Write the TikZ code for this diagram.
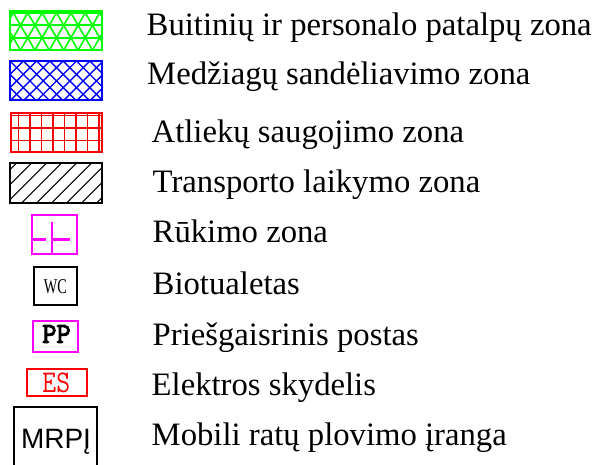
\documentclass[tikz,border=0pt]{standalone}
\usepackage{fontspec}
\setmainfont{Liberation Serif}
\newfontfamily\sansf{Liberation Sans}
\newcommand\strokedtext[1]{\special{pdf:literal direct 2 Tr 1.1 w}#1\special{pdf:literal direct 0 Tr}}
\begin{document}
\begin{tikzpicture}[x=1pt,y=-1pt,
  lbl/.style={anchor=base west, inner sep=0pt, font=\fontsize{32.7}{39}\selectfont},
  greenline/.style={draw={rgb,255:red,0;green,255;blue,0}, line width=1.6pt},
  blueline/.style={draw={rgb,255:red,0;green,0;blue,255}, line width=1.4pt},
  redline/.style={draw={rgb,255:red,255;green,0;blue,0}, line width=1.5pt},
  blackline/.style={draw=black, line width=1.1pt},
  magline/.style={draw={rgb,255:red,255;green,0;blue,255}, line width=2.3pt},
  symtext/.style={inner sep=0pt}]
\useasboundingbox (0,0) rectangle (601,464);

% --- green: triangles
\begin{scope}
  \clip (10,11) rectangle (102,50);
  \foreach \k in {12.8,25.27,37.74} {\draw[greenline] (10,\k) -- (102,\k);}
  \foreach \n in {-4,...,10} {
    \draw[greenline] (\n*14.4+13.3-25,12.8-43.3) -- (\n*14.4+13.3+25,12.8+43.3);
    \draw[greenline] (\n*14.4+13.3+25,12.8-43.3) -- (\n*14.4+13.3-25,12.8+43.3);
  }
\end{scope}
\node[draw={rgb,255:red,0;green,255;blue,0}, line width=2.6pt, minimum width=92pt, minimum height=39pt, inner sep=0pt] (gbox) at (56,30.5) {};

% --- blue: cross hatch
\begin{scope}
  \clip (10,61) rectangle (102,100);
  \foreach \n in {-4,...,10} {
    \draw[blueline] (10+\n*13.3,61) -- (50+\n*13.3,101);
    \draw[blueline] (10+\n*13.3,61) -- (-30+\n*13.3,101);
  }
\end{scope}
\node[draw={rgb,255:red,0;green,0;blue,255}, line width=2pt, minimum width=92pt, minimum height=39pt, inner sep=0pt] (bbox) at (56,80.5) {};

% --- red: grid
\begin{scope}
  \clip (10,113) rectangle (102,152);
  \foreach \k in {115.5,128,140.4} {\draw[redline] (10,\k) -- (102,\k);}
  \foreach \x in {18.3,29.8,41.3,52.8,64.3,75.8,87.3,98.8} {\draw[redline] (\x,113) -- (\x,152);}
\end{scope}
\node[draw={rgb,255:red,255;green,0;blue,0}, line width=2pt, minimum width=91pt, minimum height=39pt, inner sep=0pt] (rbox) at (56,132.5) {};

% --- black: hatch
\begin{scope}
  \clip (10,163) rectangle (102,203);
  \foreach \n in {0,...,8} {\draw[blackline] (16.7+\n*15,163) -- (-23.3+\n*15,203);}
\end{scope}
\node[draw=black, line width=1.8pt, minimum width=92pt, minimum height=40pt, inner sep=0pt] (kbox) at (56,183) {};

% --- smoking zone
\node[draw={rgb,255:red,255;green,0;blue,255}, line width=2.2pt, minimum width=45pt, minimum height=39pt, inner sep=0pt] (smk) at (54.5,234.5) {};
\draw[magline] (52,222) -- (52,254);
\draw[magline] (32,239.5) -- (45.5,239.5);
\draw[magline] (52,239.5) -- (70,239.5);

% --- WC
\node[draw=black, line width=1.5pt, minimum width=43pt, minimum height=38pt, inner sep=0pt] (wc) at (55.5,286) {};
\node[symtext] (wct) at (55.5,286.3) {\scalebox{0.68}[1]{\fontsize{21}{21}\selectfont WC}};

% --- PP
\node[draw={rgb,255:red,255;green,0;blue,255}, line width=1.8pt, minimum width=45pt, minimum height=31pt, inner sep=0pt] (pp) at (55.5,336.5) {};
\node[symtext] (ppt) at (56.5,334) {\scalebox{0.95}[1]{\ttfamily\fontsize{29}{29}\selectfont\strokedtext{PP}}};

% --- ES
\node[draw={rgb,255:red,255;green,0;blue,0}, line width=1.5pt, minimum width=60pt, minimum height=27pt, inner sep=0pt] (es) at (57,382.5) {};
\node[symtext, text={rgb,255:red,255;green,0;blue,0}] (est) at (56.3,383) {\scalebox{0.85}[1]{\ttfamily\fontsize{31.6}{31.6}\selectfont ES}};

% --- MRPI
\coordinate (m1) at (14,466);
\coordinate (m2) at (14,407);
\coordinate (m3) at (97,407);
\coordinate (m4) at (97,466);
\draw[black, line width=1.5pt] (m1) -- (m2) -- (m3) -- (m4);
\node[anchor=base, inner sep=0pt, font=\sansf\fontsize{28}{28}\selectfont] (mrpi) at (56,448) {MRPĮ};

% --- labels
\node[lbl] (l1) at (146.5,35) {Buitinių ir personalo patalpų zona};
\node[lbl] (l2) at (147,84) {Medžiagų sandėliavimo zona};
\node[lbl] (l3) at (151.5,142) {Atliekų saugojimo zona};
\node[lbl] (l4) at (152.5,192) {Transporto laikymo zona};
\node[lbl] (l5) at (152.5,242) {Rūkimo zona};
\node[lbl] (l6) at (152.5,294) {Biotualetas};
\node[lbl] (l7) at (152.5,345) {Priešgaisrinis postas};
\node[lbl] (l8) at (151.5,395) {Elektros skydelis};
\node[lbl] (l9) at (151.5,445) {Mobili ratų plovimo įranga};
\end{tikzpicture}
\end{document}
